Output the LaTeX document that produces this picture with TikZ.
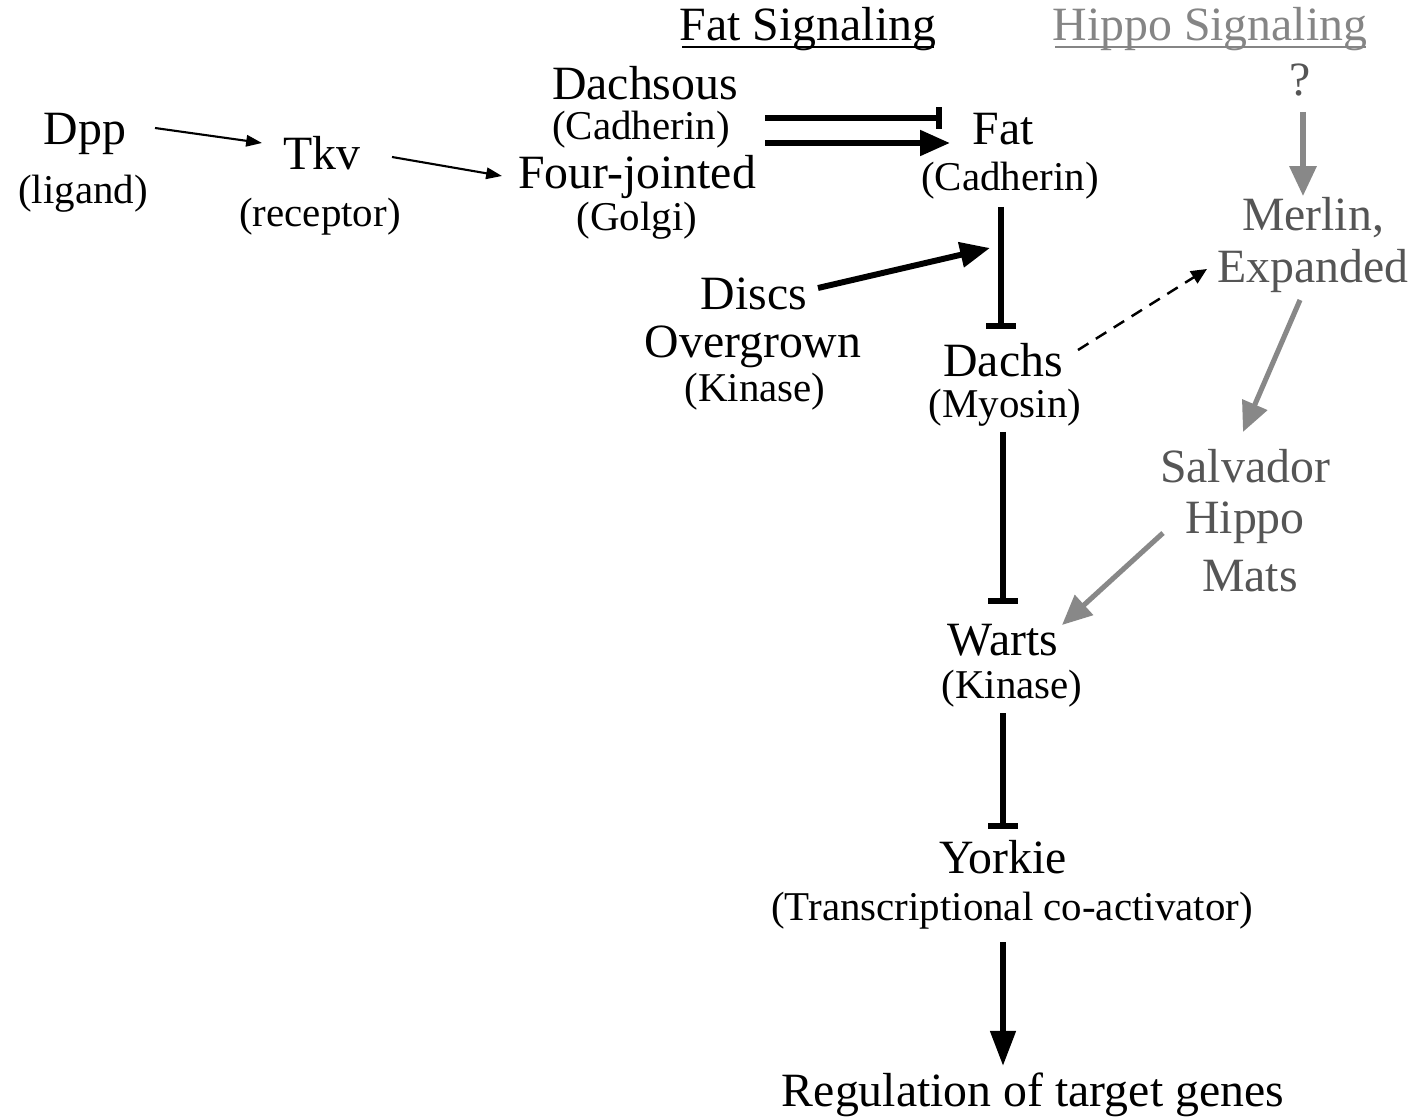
\documentclass[tikz,border=0pt]{standalone}
\usepackage{fontspec}
\setmainfont{Liberation Serif}
\usetikzlibrary{arrows.meta}
\definecolor{gtext}{HTML}{555555}
\definecolor{gtitle}{HTML}{858585}
\definecolor{garrow}{HTML}{888888}
\tikzset{
  big/.style={font=\fontsize{27.2}{30}\selectfont, inner sep=0pt, anchor=base},
  small/.style={font=\fontsize{23.3}{26}\selectfont, inner sep=0pt, anchor=base},
  thinarr/.style={line width=1.2pt, -{Triangle[length=9pt,width=6.5pt]}},
  inhib/.style={line width=3.4pt, -{Bar[width=17pt,line width=3.4pt]}},
  inhibtop/.style={line width=3.4pt, -{Bar[width=12pt,line width=3.4pt]}},
  actarr/.style={line width=3.4pt, -{Triangle[length=17pt,width=14pt]}},
  greyarr/.style={draw=garrow, line width=2.9pt, -{Triangle[length=17pt,width=15pt]}, color=garrow},
  dasharr/.style={line width=1.4pt, dash pattern=on 7pt off 5pt, -{Triangle[length=9pt,width=8pt]}},
}
\begin{document}
\begin{tikzpicture}[x=0.02cm,y=-0.02cm]
\useasboundingbox (0,0) rectangle (1424,1118);
% titles
\node[big] (fs) at (808,41) {Fat Signaling};
\draw[line width=1.2pt] (682,47) -- (934,47);
\node[big,text=gtitle] (hs) at (1210,41) {Hippo Signaling};
\draw[line width=1.2pt,gtitle] (1055,47) -- (1366,47);
\node[big,text=gtext] (q) at (1300,96) {?};
% left
\node[big] (dpp) at (85,145) {Dpp};
\node[small] (lig) at (83,204) {(ligand)};
\node[big] (tkv) at (322,170) {Tkv};
\node[small] (rec) at (320,227) {(receptor)};
\node[big] (ds) at (645,100) {Dachsous};
\node[small] (dsc) at (641,140) {(Cadherin)};
\node[big] (fj) at (637,189) {Four-jointed};
\node[small] (golgi) at (637,231) {(Golgi)};
\node[big] (fat) at (1003,145) {Fat};
\node[small] (fatc) at (1010,191) {(Cadherin)};
\node[big] (discs) at (754,310) {Discs};
\node[big] (over) at (753,358) {Overgrown};
\node[small] (dk) at (755,402) {(Kinase)};
\node[big] (dachs) at (1003,377) {Dachs};
\node[small] (myo) at (1005,418) {(Myosin)};
\node[big,text=gtext] (mer) at (1313,231) {Merlin,};
\node[big,text=gtext] (exp) at (1313,283) {Expanded};
\node[big,text=gtext] (sal) at (1245,482) {Salvador};
\node[big,text=gtext] (hip) at (1245,534) {Hippo};
\node[big,text=gtext] (mats) at (1250,591) {Mats};
\node[big] (warts) at (1003,655) {Warts};
\node[small] (wk) at (1012,698) {(Kinase)};
\node[big] (york) at (1003,873) {Yorkie};
\node[small] (tca) at (1012,920) {(Transcriptional co-activator)};
\node[big] (reg) at (1033,1106) {Regulation of target genes};
% connector end points
\coordinate (a1) at (155,128); \coordinate (a2) at (262,143);
\coordinate (b1) at (392,157); \coordinate (b2) at (502,176);
\coordinate (c1) at (765,118); \coordinate (c2) at (942,118);
\coordinate (d1) at (765,143); \coordinate (d2) at (950,143);
\coordinate (e1) at (1001,207); \coordinate (e2) at (1001,329);
\coordinate (f1) at (818,288); \coordinate (f2) at (990,248);
\coordinate (g1) at (1078,350); \coordinate (g2) at (1207,269);
\coordinate (h1) at (1003,432); \coordinate (h2) at (1003,604);
\coordinate (i1) at (1003,713); \coordinate (i2) at (1003,829);
\coordinate (j1) at (1003,942); \coordinate (j2) at (1003,1066);
\coordinate (k1) at (1303,112); \coordinate (k2) at (1303,196);
\coordinate (l1) at (1300,300); \coordinate (l2) at (1243,432);
\coordinate (m1) at (1163,533); \coordinate (m2) at (1062,625);
% connectors
\draw[thinarr] (a1) -- (a2);
\draw[thinarr] (b1) -- (b2);
\draw[inhibtop] (c1) -- (c2);
\draw[actarr] (d1) -- (d2);
\draw[inhib] (e1) -- (e2);
\draw[actarr] (f1) -- (f2);
\draw[dasharr] (g1) -- (g2);
\draw[inhib] (h1) -- (h2);
\draw[inhib] (i1) -- (i2);
\draw[actarr,-{Triangle[length=20pt,width=14pt]}] (j1) -- (j2);
\draw[greyarr] (k1) -- (k2);
\draw[greyarr] (l1) -- (l2);
\draw[greyarr] (m1) -- (m2);
\end{tikzpicture}
\end{document}
